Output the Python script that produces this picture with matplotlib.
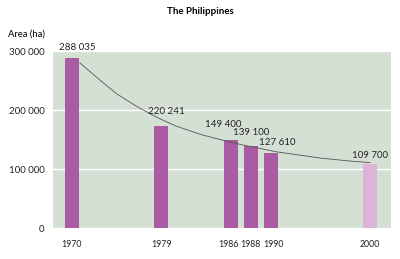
import matplotlib
matplotlib.use("Agg")
import matplotlib.pyplot as plt
from matplotlib.transforms import ScaledTranslation

# bar data (1979 bar is drawn shorter than its label in the source)
years = [1970, 1979, 1986, 1988, 1990, 2000]
bar_heights = [288035, 174000, 149400, 139100, 127610, 109700]
value_labels = ["288 035", "220 241", "149 400", "139 100", "127 610", "109 700"]
projected = [False, False, False, False, False, True]

# trend curve
trend_years = [1970.8, 1972.9, 1974.5, 1976.6, 1978.6, 1980.4, 1982.9,
               1984.6, 1986.9, 1989.0, 1990.6, 1995.0, 1998.3, 2000.0]
trend_values = [280000, 249700, 227700, 205600, 187400, 173600, 159200,
                151600, 142200, 135000, 129500, 119000, 113400, 111400]

ytick_vals = [0, 100000, 200000, 300000]
ytick_labels = ["0", "100 000", "200 000", "300 000"]

# label nudges in pixels (dx, dy above bar top), and year label nudges
label_dx = [5, 5, -8, 0, 7, 0]
label_dy = [11, 14, 16, 14, 10, 8]
year_dx = [0, 0, -3, 0, 3, 0]

BAR = "#a95ba3"
BAR_LIGHT = "#dcb4d8"
BG = "#d5e0d5"
FONT = ["Lato", "DejaVu Sans"]
plt.rcParams["font.family"] = FONT

fig = plt.figure(figsize=(4, 2.59), dpi=100)
ax = fig.add_axes([0.1325, 0.118, 0.845, 0.685])
ax.set_facecolor(BG)

colors = [BAR_LIGHT if p else BAR for p in projected]
ax.bar(years, bar_heights, width=1.4, color=colors, zorder=2)
ax.plot(trend_years, trend_values, color="#555555", lw=0.6, zorder=3)

for yr, h, txt, dx, dy in zip(years, bar_heights, value_labels, label_dx, label_dy):
    ax.annotate(txt, (yr, h), xytext=(dx * 0.72, dy * 0.72), textcoords="offset points",
                ha="center", va="center", fontsize=7, color="#222222", zorder=4)

ax.set_xlim(1968.1, 2002.1)
ax.set_ylim(0, 300000)
ax.set_xticks(years)
ax.set_xticklabels([str(y) for y in years])
ax.set_yticks(ytick_vals)
ax.set_yticklabels(ytick_labels)
ax.tick_params(length=0, labelsize=7, colors="#222222")
ax.tick_params(axis="y", pad=6)
ax.tick_params(axis="x", pad=8, labelsize=6.3)
for lbl, dx in zip(ax.get_xticklabels(), year_dx):
    lbl.set_transform(lbl.get_transform() + ScaledTranslation(dx / 100, 0, fig.dpi_scale_trans))
ax.grid(axis="y", color="white", lw=1, zorder=1)
ax.set_axisbelow(True)
for s in ax.spines.values():
    s.set_visible(False)

fig.text(0.5, 0.954, "The Philippines", ha="center", va="center",
         fontsize=7, fontweight="bold")
fig.text(0.02, 0.869, "Area (ha)", ha="left", va="center", fontsize=6.8)

fig.savefig("out.png", dpi=100)
